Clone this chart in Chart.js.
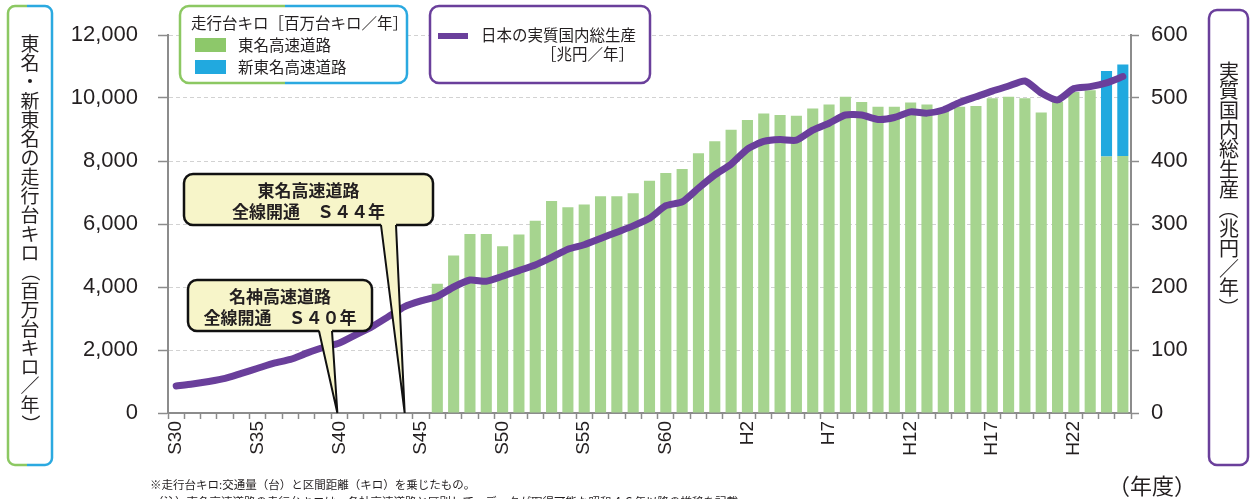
<!DOCTYPE html>
<html lang="ja">
<head>
<meta charset="utf-8">
<title>東名・新東名の走行台キロと実質国内総生産</title>
<script src="https://cdn.jsdelivr.net/npm/chart.js@4.4.1/dist/chart.umd.min.js"></script>
<style>
  html, body { margin: 0; padding: 0; background: #fff; }
  #wrap { width: 1250px; height: 499px; }
</style>
</head>
<body>
<div id="wrap"><canvas id="roadChart" width="1250" height="499"></canvas></div>
<script>
// 年度 (昭和30年度〜平成25年度)
const fiscalYears = [
  'S30','S31','S32','S33','S34','S35','S36','S37','S38','S39',
  'S40','S41','S42','S43','S44','S45','S46','S47','S48','S49',
  'S50','S51','S52','S53','S54','S55','S56','S57','S58','S59',
  'S60','S61','S62','S63','H1','H2','H3','H4','H5','H6',
  'H7','H8','H9','H10','H11','H12','H13','H14','H15','H16',
  'H17','H18','H19','H20','H21','H22','H23','H24','H25'
];
const tickYears = ['S30','S35','S40','S45','S50','S55','S60','H2','H7','H12','H17','H22'];

// 走行台キロ [百万台キロ/年]
const tomeiKm = [
  null, null, null, null, null, null, null, null, null, null,
  null, null, null, null, null, null, 4100, 5000, 5680, 5680,
  5290, 5670, 6100, 6730, 6530, 6620, 6880, 6880, 6980, 7370,
  7620, 7750, 8250, 8630, 8990, 9300, 9510, 9460, 9440, 9670,
  9790, 10040, 9870, 9720, 9720, 9860, 9790, 9650, 9720, 9750,
  9990, 10040, 9990, 9540, 9880, 10190, 10250, 8140, 8160
];
const shinTomeiKm = [
  null, null, null, null, null, null, null, null, null, null,
  null, null, null, null, null, null, null, null, null, null,
  null, null, null, null, null, null, null, null, null, null,
  null, null, null, null, null, null, null, null, null, null,
  null, null, null, null, null, null, null, null, null, null,
  null, null, null, null, null, null, null, 2720, 2900
];

// 日本の実質国内総生産 [兆円/年]
const realGdp = [
  43, 46, 50, 55, 63, 71, 79, 85, 95, 104,
  111, 124, 137, 153, 169, 178, 185, 200, 211, 209,
  217, 226, 235, 247, 260, 267, 277, 287, 297, 309,
  329, 335, 357, 378, 395, 419, 431, 434, 433, 449,
  460, 473, 473, 466, 469, 478, 476, 481, 493, 502,
  511, 519, 527, 508, 497, 515, 518, 524, 534
];

const GREEN = '#a6d48f';
const BLUE = '#21a9df';
const PURPLE = '#6a3f9b';
const AXIS = '#8c8c8c';
const INK = '#231f20';
const JP = "'Noto Sans CJK JP', 'Noto Sans', sans-serif";
const NUM = "'Liberation Sans', Arial, sans-serif";

function roundPath(ctx, x, y, w, h, r) {
  ctx.beginPath();
  ctx.moveTo(x + r, y);
  ctx.lineTo(x + w - r, y);
  ctx.arcTo(x + w, y, x + w, y + r, r);
  ctx.lineTo(x + w, y + h - r);
  ctx.arcTo(x + w, y + h, x + w - r, y + h, r);
  ctx.lineTo(x + r, y + h);
  ctx.arcTo(x, y + h, x, y + h - r, r);
  ctx.lineTo(x, y + r);
  ctx.arcTo(x, y, x + r, y, r);
  ctx.closePath();
}

// box whose border is one colour left of splitX and another right of it
function twoToneBox(ctx, x, y, w, h, r, splitX, left, right) {
  ctx.save();
  roundPath(ctx, x, y, w, h, r);
  ctx.fillStyle = '#fff';
  ctx.fill();
  ctx.lineWidth = 2.5;
  [[x - 5, splitX, left], [splitX, x + w + 5, right]].forEach(([a, b, col]) => {
    ctx.save();
    ctx.beginPath();
    ctx.rect(a, y - 5, b - a, h + 10);
    ctx.clip();
    roundPath(ctx, x, y, w, h, r);
    ctx.strokeStyle = col;
    ctx.stroke();
    ctx.restore();
  });
  ctx.restore();
}

function verticalText(ctx, text, cx, y0, step) {
  [...text].forEach((ch, i) => {
    const y = y0 + i * step;
    if (ch === '（' || ch === '）') {
      ctx.save();
      ctx.translate(cx, y);
      ctx.rotate(Math.PI / 2);
      ctx.fillText(ch, 0, 0);
      ctx.restore();
    } else {
      ctx.fillText(ch, cx, y);
    }
  });
}

function callout(ctx, box, lines, base, tip) {
  ctx.save();
  ctx.lineWidth = 2.5;
  ctx.strokeStyle = '#111';
  ctx.fillStyle = '#f7f5c9';
  roundPath(ctx, box.x, box.y, box.w, box.h, 9);
  ctx.fill();
  ctx.stroke();
  // pointer
  ctx.beginPath();
  ctx.moveTo(base[0], box.y + box.h - 2);
  ctx.lineTo(tip[0], tip[1]);
  ctx.lineTo(base[1], box.y + box.h - 2);
  ctx.closePath();
  ctx.fill();
  ctx.beginPath();
  ctx.moveTo(base[0], box.y + box.h);
  ctx.lineTo(tip[0], tip[1]);
  ctx.lineTo(base[1], box.y + box.h);
  ctx.lineWidth = 2;
  ctx.stroke();
  ctx.fillStyle = INK;
  ctx.font = 'bold 17px ' + JP;
  ctx.textAlign = 'center';
  ctx.textBaseline = 'middle';
  ctx.fillText(lines[0], box.x + box.w / 2, box.y + 17);
  ctx.fillText(lines[1], box.x + box.w / 2, box.y + 38);
  ctx.restore();
}

const decor = {
  id: 'decor',
  afterDraw(chart) {
    const ctx = chart.ctx;
    const x = chart.scales.x;
    const bottom = chart.chartArea.bottom;

    // left axis title
    twoToneBox(ctx, 8, 6, 44, 459, 7, 27, '#8cc862', '#2ba9e0');
    ctx.save();
    ctx.fillStyle = INK;
    ctx.font = '19px ' + JP;
    ctx.textAlign = 'center';
    ctx.textBaseline = 'middle';
    verticalText(ctx, '東名・新東名の走行台キロ（百万台キロ／年）', 30, 44, 19);
    ctx.restore();

    // right axis title
    ctx.save();
    roundPath(ctx, 1209, 10, 39, 455, 8);
    ctx.fillStyle = '#fff';
    ctx.fill();
    ctx.lineWidth = 2.5;
    ctx.strokeStyle = PURPLE;
    ctx.stroke();
    ctx.fillStyle = INK;
    ctx.font = '20px ' + JP;
    ctx.textAlign = 'center';
    ctx.textBaseline = 'middle';
    verticalText(ctx, '実質国内総生産（兆円／年）', 1229, 71, 19.7);
    ctx.restore();

    // legend: bars
    twoToneBox(ctx, 180, 6, 227, 77, 9, 285, '#8cc862', '#2ba9e0');
    ctx.save();
    ctx.fillStyle = INK;
    ctx.font = '15.5px ' + JP;
    ctx.textBaseline = 'middle';
    ctx.fillText('走行台キロ［百万台キロ／年］', 191, 23);
    ctx.fillStyle = '#8dc86a';
    ctx.fillRect(195, 38, 31, 14);
    ctx.fillStyle = BLUE;
    ctx.fillRect(195, 60, 31, 14);
    ctx.fillStyle = INK;
    ctx.fillText('東名高速道路', 238, 45);
    ctx.fillText('新東名高速道路', 238, 67);
    ctx.restore();

    // legend: line
    ctx.save();
    roundPath(ctx, 430, 6, 220, 77, 9);
    ctx.fillStyle = '#fff';
    ctx.fill();
    ctx.lineWidth = 2.5;
    ctx.strokeStyle = PURPLE;
    ctx.stroke();
    ctx.fillStyle = PURPLE;
    ctx.fillRect(438, 33, 30, 6);
    ctx.fillStyle = INK;
    ctx.font = '15.5px ' + JP;
    ctx.textBaseline = 'middle';
    ctx.fillText('日本の実質国内総生産', 481, 35);
    ctx.textAlign = 'right';
    ctx.fillText('［兆円／年］', 634, 54);
    ctx.restore();

    // callouts
    const i40 = fiscalYears.indexOf('S40');
    const i44 = fiscalYears.indexOf('S44');
    callout(ctx, { x: 188, y: 280, w: 184, h: 51 }, ['名神高速道路', '全線開通　Ｓ４０年'],
      [319, 332], [x.getPixelForValue(i40) - 2, bottom]);
    callout(ctx, { x: 184, y: 174, w: 249, h: 51 }, ['東名高速道路', '全線開通　Ｓ４４年'],
      [381, 396], [x.getPixelForValue(i44), bottom]);

    // notes
    ctx.save();
    ctx.fillStyle = INK;
    ctx.font = '11.5px ' + JP;
    ctx.textBaseline = 'alphabetic';
    ctx.fillText('※走行台キロ:交通量（台）と区間距離（キロ）を乗じたもの。', 150, 489);
    ctx.fillText('（注）東名高速道路の走行台キロは、各社高速道路と区別して、データが取得可能な昭和４６年以降の推移を記載', 152, 506);
    ctx.font = '22px ' + JP;
    ctx.textBaseline = 'middle';
    ctx.fillText('（年度）', 1108, 486);
    ctx.restore();
  }
};

const ctx = document.getElementById('roadChart').getContext('2d');

new Chart(ctx, {
  type: 'bar',
  data: {
    labels: fiscalYears,
    datasets: [
      {
        type: 'line',
        label: '日本の実質国内総生産',
        data: realGdp,
        yAxisID: 'y1',
        borderColor: PURPLE,
        borderWidth: 7,
        pointRadius: 0,
        tension: 0.2,
        borderCapStyle: 'round',
        borderJoinStyle: 'round',
        order: 0
      },
      {
        label: '東名高速道路',
        data: tomeiKm,
        backgroundColor: GREEN,
        yAxisID: 'y',
        barPercentage: 0.68,
        categoryPercentage: 1,
        order: 1
      },
      {
        label: '新東名高速道路',
        data: shinTomeiKm,
        backgroundColor: BLUE,
        yAxisID: 'y',
        barPercentage: 0.68,
        categoryPercentage: 1,
        order: 1
      }
    ]
  },
  options: {
    responsive: false,
    animation: false,
    layout: { padding: { left: 60, right: 39, top: 35, bottom: 26 } },
    plugins: {
      legend: { display: false },
      tooltip: { enabled: false }
    },
    scales: {
      x: {
        stacked: true,
        afterFit: s => { s.height = 60; },
        grid: { drawOnChartArea: false, tickLength: 6, tickColor: AXIS, tickWidth: 1.5, offset: true },
        border: { color: AXIS, width: 2 },
        ticks: {
          autoSkip: false,
          minRotation: 90,
          maxRotation: 90,
          padding: 2,
          color: INK,
          font: { family: NUM, size: 19 },
          callback: (v, i) => tickYears.includes(fiscalYears[i]) ? fiscalYears[i] : ''
        }
      },
      y: {
        stacked: true,
        position: 'left',
        min: 0,
        max: 12000,
        afterFit: s => { s.width = 108; },
        grid: { color: '#d2d2d2', tickColor: AXIS, tickLength: 10, tickWidth: 1.5, tickBorderDash: [] },
        border: { color: AXIS, width: 2, dash: [4, 3] },
        ticks: {
          stepSize: 2000,
          padding: 20,
          color: INK,
          font: { family: NUM, size: 22 },
          callback: v => v.toLocaleString('en-US')
        }
      },
      y1: {
        position: 'right',
        min: 0,
        max: 600,
        afterFit: s => { s.width = 80; },
        grid: { drawOnChartArea: false, tickColor: AXIS, tickLength: 8, tickWidth: 1.5 },
        border: { color: AXIS, width: 2 },
        ticks: {
          stepSize: 100,
          padding: 12,
          color: INK,
          font: { family: NUM, size: 22 }
        }
      }
    }
  },
  plugins: [decor]
});
</script>
</body>
</html>
